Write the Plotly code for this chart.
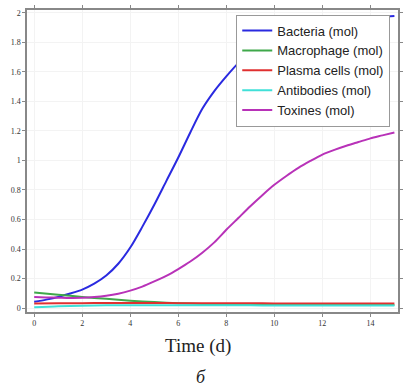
import plotly.graph_objects as go

# time points (d)
t = [0, 1, 2, 3, 4, 5, 6, 7, 8, 9, 10, 11, 12, 13, 14, 15]
t_half = [0, 0.5, 1, 1.5, 2, 2.5, 3, 3.5, 4, 4.5, 5, 5.5, 6, 6.5, 7, 7.5,
          8, 8.5, 9, 9.5, 10, 10.5, 11, 11.5, 12, 12.5, 13, 13.5, 14, 14.5, 15]

bacteria = [0.042, 0.057, 0.075, 0.098, 0.125, 0.165, 0.22, 0.30, 0.41, 0.55, 0.70, 0.86,
            1.02, 1.19, 1.35, 1.47, 1.57, 1.66, 1.73, 1.79, 1.83, 1.865, 1.89, 1.91,
            1.93, 1.945, 1.955, 1.963, 1.97, 1.975, 1.98]
toxines = [0.075, 0.072, 0.070, 0.068, 0.069, 0.074, 0.083, 0.097, 0.118, 0.145, 0.18, 0.218,
           0.264, 0.315, 0.375, 0.445, 0.53, 0.61, 0.69, 0.765, 0.835, 0.895, 0.95, 0.997,
           1.04, 1.072, 1.10, 1.125, 1.15, 1.17, 1.19]
macrophage = [0.105, 0.09, 0.075, 0.062, 0.05, 0.04, 0.033, 0.028, 0.025, 0.023, 0.022, 0.021, 0.021, 0.02, 0.02, 0.02]
plasma = [0.03, 0.032, 0.033, 0.034, 0.034, 0.034, 0.033, 0.033, 0.032, 0.032, 0.031, 0.031, 0.031, 0.03, 0.03, 0.03]
antibodies = [0.005, 0.012, 0.016, 0.018, 0.019, 0.019, 0.019, 0.018, 0.018, 0.018, 0.017, 0.017, 0.017, 0.017, 0.017, 0.017]

names = ["Bacteria (mol)", "Macrophage (mol)", "Plasma cells (mol)", "Antibodies (mol)", "Toxines (mol)"]
xs = [t_half, t, t, t, t_half]
series = [bacteria, macrophage, plasma, antibodies, toxines]
colors = ["#2a2ae0", "#3fa84a", "#e03030", "#40e0d8", "#b832b8"]

x_ticks = [0, 2, 4, 6, 8, 10, 12, 14]
y_ticks = [0, 0.2, 0.4, 0.6, 0.8, 1, 1.2, 1.4, 1.6, 1.8, 2]
y_ticklabels = ["0", "0.2", "0.4", "0.6", "0.8", "1", "1.2", "1.4", "1.6", "1.8", "2"]

fig = go.Figure()
for name, xv, ys, c in zip(names, xs, series, colors):
    fig.add_trace(go.Scatter(x=xv, y=ys, mode="lines", name=name,
                             line=dict(color=c, width=2, shape="spline", smoothing=0.8)))

axis_common = dict(showline=True, linecolor="#888888", linewidth=1.5, mirror="ticks",
                   ticks="outside", ticklen=3, tickcolor="#888888",
                   showgrid=True, gridcolor="#f3f3f3", zeroline=False,
                   tickfont=dict(family="Liberation Serif", size=8, color="#333333"))

fig.update_layout(
    width=408, height=386,
    margin=dict(l=27, r=5, t=5, b=74),
    paper_bgcolor="white", plot_bgcolor="white",
    showlegend=True,
    legend=dict(x=0.564, y=0.985, xanchor="left", yanchor="top",
                bgcolor="white", bordercolor="#999999", borderwidth=1,
                font=dict(family="Liberation Sans", size=13, color="#222222"),
                itemwidth=30, tracegroupgap=0),
    xaxis=dict(range=[-0.3, 15.15], tickvals=x_ticks, **axis_common),
    yaxis=dict(range=[-0.027, 2.02], tickvals=y_ticks, ticktext=y_ticklabels, **axis_common),
    annotations=[
        dict(text="Time (d)", xref="paper", yref="paper", x=0.46, y=-0.111,
             xanchor="center", yanchor="middle", showarrow=False,
             font=dict(family="Liberation Serif", size=19, color="#222222")),
        dict(text="<i>б</i>", xref="paper", yref="paper", x=0.468, y=-0.215,
             xanchor="center", yanchor="middle", showarrow=False,
             font=dict(family="Liberation Serif", size=18, color="#222222")),
    ],
)

fig.write_html("out.html", config={"displayModeBar": False},
               post_script="document.body.style.margin='0';")
